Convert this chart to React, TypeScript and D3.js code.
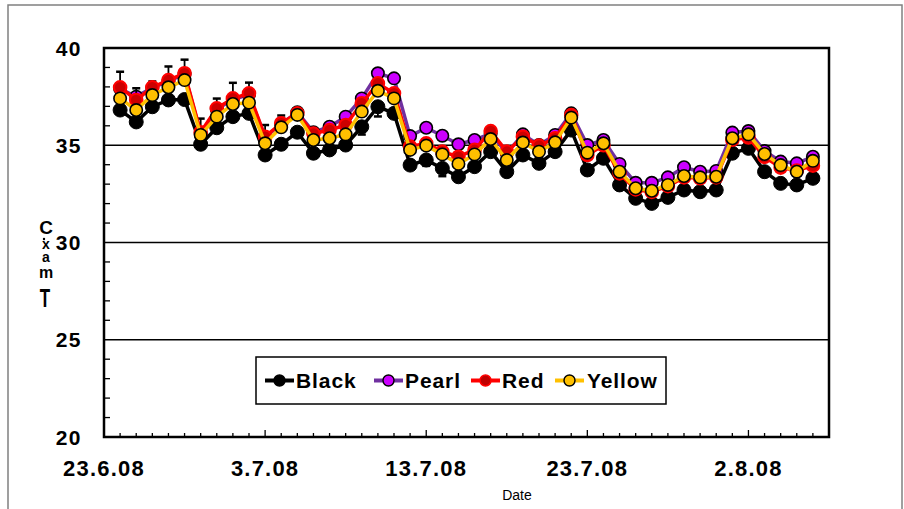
import React from "react";
import * as d3 from "d3";

const startDate = new Date(Date.UTC(2008, 5, 23));
const endDate = new Date(Date.UTC(2008, 7, 7));
const dates = d3.utcDay.range(new Date(Date.UTC(2008, 5, 24)), new Date(Date.UTC(2008, 7, 7)));

const black = [36.81, 36.2, 36.98, 37.33, 37.35, 35.05, 35.9, 36.47, 36.64, 34.5, 35.05, 35.67, 34.59, 34.76, 35.01, 35.95, 36.98, 36.64, 33.98, 34.24, 33.81, 33.38, 33.9, 34.67, 33.64, 34.5, 34.07, 34.67, 35.78, 33.73, 34.33, 32.96, 32.27, 32.01, 32.32, 32.7, 32.61, 32.7, 34.59, 34.84, 33.64, 33.04, 32.96, 33.3];
const pearl = [37.9, 37.5, 37.95, 38.3, 38.65, 35.6, 36.85, 37.35, 37.6, 35.4, 36.1, 36.7, 35.67, 35.95, 36.47, 37.41, 38.7, 38.44, 35.47, 35.9, 35.49, 35.05, 35.27, 35.6, 34.6, 35.56, 35.01, 35.53, 36.64, 35.01, 35.27, 34.04, 33.07, 33.07, 33.35, 33.87, 33.64, 33.68, 35.65, 35.73, 34.7, 34.16, 34.07, 34.41];
const red = [37.98, 37.33, 37.98, 38.35, 38.7, 35.67, 36.9, 37.41, 37.67, 35.44, 36.13, 36.64, 35.6, 35.78, 36.04, 37.16, 38.18, 37.67, 34.93, 35.1, 34.67, 34.41, 34.76, 35.73, 34.67, 35.44, 34.98, 35.36, 36.55, 34.5, 35.0, 33.55, 32.73, 32.6, 32.9, 33.35, 33.3, 33.35, 35.28, 35.4, 34.4, 33.85, 33.7, 33.95];
const yellow = [37.41, 36.81, 37.58, 37.98, 38.35, 35.53, 36.47, 37.12, 37.19, 35.1, 35.92, 36.56, 35.27, 35.36, 35.56, 36.73, 37.8, 37.41, 34.76, 34.98, 34.53, 34.04, 34.53, 35.32, 34.24, 35.14, 34.67, 35.15, 36.42, 34.62, 35.1, 33.64, 32.79, 32.66, 32.96, 33.42, 33.35, 33.38, 35.36, 35.56, 34.55, 33.98, 33.64, 34.2];
const redErrUp = [0.8, 0.6, 0.3, 0.7, 0.7, 0.7, 0.5, 0.8, 0.55, 0.6, 0.4, 0.2, 0.2, 0.2, 0.15, 0.15, 0.15, 0.1, 0.1, 0.1, 0.1, 0.1, 0.1, 0.1, 0.1, 0.1, 0.1, 0.1, 0.1, 0.1, 0.1, 0.1, 0.1, 0.1, 0.1, 0.1, 0.1, 0.1, 0.1, 0.1, 0.1, 0.1, 0.1, 0.1];
const blackErrDown = [0, 0, 0, 0, 0, 0, 0, 0, 0, 0, 0, 0, 0, 0, 0, 0.4, 0.5, 0, 0, 0.3, 0.4, 0, 0, 0, 0, 0, 0, 0, 0, 0, 0, 0, 0, 0, 0, 0, 0, 0, 0, 0, 0, 0, 0, 0];

const yTicks = [20, 25, 30, 35, 40];
const gridValues = [25, 30, 35];
const xLabelDates = [
  new Date(Date.UTC(2008, 5, 23)),
  new Date(Date.UTC(2008, 6, 3)),
  new Date(Date.UTC(2008, 6, 13)),
  new Date(Date.UTC(2008, 6, 23)),
  new Date(Date.UTC(2008, 7, 2)),
];
const seriesNames = ["Black", "Pearl", "Red", "Yellow"];
const yTitleChars = ["C", "x", "a", "m", "T"];

const W = 904, H = 509;
const L = 104, R = 829, T = 48, B = 437;
const FONT = "'Liberation Sans', Arial, Helvetica, sans-serif";

const styles: Record<string, { line: string; fill: string; stroke: string; sw: number; r: number }> = {
  Black: { line: "#000000", fill: "#000000", stroke: "#000000", sw: 1, r: 7 },
  Pearl: { line: "#7030A0", fill: "#CC00FF", stroke: "#000000", sw: 1.6, r: 6.2 },
  Red: { line: "#FF0000", fill: "#CC0000", stroke: "#FF0000", sw: 2, r: 6.3 },
  Yellow: { line: "#FFC000", fill: "#FFC000", stroke: "#000000", sw: 1.6, r: 6.2 },
};

export default function App() {
  const x = d3.scaleUtc().domain([startDate, endDate]).range([L, R]);
  const y = d3.scaleLinear().domain([20, 40]).range([B, T]);
  const dataMap: Record<string, number[]> = { Black: black, Pearl: pearl, Red: red, Yellow: yellow };
  const line = d3
    .line<number>()
    .x((_, i) => x(dates[i]))
    .y((v) => y(v));
  const dayTicks = d3.utcDay.range(new Date(Date.UTC(2008, 5, 24)), endDate);
  const minorY = d3.range(21, 40).filter((v) => v % 5 !== 0);

  const legendItems = [
    { name: "Black", lx: 265, tx: 296 },
    { name: "Pearl", lx: 374, tx: 405 },
    { name: "Red", lx: 471, tx: 502 },
    { name: "Yellow", lx: 555, tx: 587 },
  ];
  const titleY = [234, 249, 262, 278, 298];

  return (
    <svg width={W} height={H} style={{ position: "absolute", left: 0, top: 0, background: "#fff" }} fontFamily={FONT}>
      <rect x={0} y={0} width={W} height={H} fill="#fff" />
      <rect x={8} y={5} width={894} height={520} fill="none" stroke="#808080" strokeWidth={1.5} />
      {gridValues.map((v) => (
        <line key={v} x1={L} x2={R} y1={y(v)} y2={y(v)} stroke="#000" strokeWidth={1.5} />
      ))}
      {minorY.map((v) => (
        <line key={v} x1={L} x2={L + 6} y1={y(v)} y2={y(v)} stroke="#000" strokeWidth={1.3} />
      ))}
      {dayTicks.map((d, i) => {
        const major = d3.utcDay.count(startDate, d) % 10 === 0;
        return <line key={i} x1={x(d)} x2={x(d)} y1={B} y2={B - (major ? 7 : 4)} stroke="#000" strokeWidth={1.3} />;
      })}
      <rect x={L} y={T} width={R - L} height={B - T} fill="none" stroke="#000" strokeWidth={2.5} />
      {yTicks.map((v) => (
        <text key={v} x={82} y={y(v)} dy="0.36em" textAnchor="end" fontSize={21} fontWeight="bold" letterSpacing={1.5}>
          {v}
        </text>
      ))}
      {xLabelDates.map((d, i) => (
        <text key={i} x={x(d)} y={476} textAnchor="middle" fontSize={22} fontWeight="bold" letterSpacing={1.2}>
          {`${d.getUTCDate()}.${d.getUTCMonth() + 1}.08`}
        </text>
      ))}
      <text x={517} y={500} textAnchor="middle" fontSize={14}>Date</text>
      <g fontWeight="bold" textAnchor="middle">
        {yTitleChars.map((c, i) =>
          c === "T" ? (
            <text key={i} x={45} y={0} fontSize={17} transform={`translate(0,${titleY[i] + 9}) scale(1,1.5)`}>T</text>
          ) : (
            <text key={i} x={46} y={titleY[i]} fontSize={c === "C" ? 19 : c === "m" ? 16 : 14}>{c}</text>
          )
        )}
        <circle cx={44} cy={239} r={1.2} fill="#000" />
      </g>
      {seriesNames.map((name) => {
        const s = styles[name];
        const vals = dataMap[name];
        return (
          <g key={name}>
            {name === "Red" &&
              vals.map((v, i) =>
                redErrUp[i] > 0 ? (
                  <g key={i} stroke="#000" strokeWidth={1.8}>
                    <line x1={x(dates[i])} x2={x(dates[i])} y1={y(v)} y2={y(v + redErrUp[i])} />
                    <line x1={x(dates[i]) - 4} x2={x(dates[i]) + 4} y1={y(v + redErrUp[i])} y2={y(v + redErrUp[i])} strokeWidth={2.5} />
                  </g>
                ) : null
              )}
            {name === "Black" &&
              vals.map((v, i) =>
                blackErrDown[i] > 0 ? (
                  <g key={i} stroke="#000" strokeWidth={1.8}>
                    <line x1={x(dates[i])} x2={x(dates[i])} y1={y(v)} y2={y(v - blackErrDown[i])} />
                    <line x1={x(dates[i]) - 4} x2={x(dates[i]) + 4} y1={y(v - blackErrDown[i])} y2={y(v - blackErrDown[i])} strokeWidth={2.5} />
                  </g>
                ) : null
              )}
            <path d={line(vals) || ""} fill="none" stroke={s.line} strokeWidth={3.5} strokeLinejoin="round" />
            {vals.map((v, i) => (
              <circle key={i} cx={x(dates[i])} cy={y(v)} r={s.r} fill={s.fill} stroke={s.stroke} strokeWidth={s.sw} />
            ))}
          </g>
        );
      })}
      <rect x={256} y={357} width={410} height={47} fill="#fff" stroke="#000" strokeWidth={1.5} />
      {legendItems.map((it) => {
        const s = styles[it.name];
        return (
          <g key={it.name}>
            <line x1={it.lx} x2={it.lx + 29} y1={380.5} y2={380.5} stroke={s.line} strokeWidth={4} />
            <circle cx={it.lx + 14.5} cy={380.5} r={5.5} fill={it.name === "Red" ? "#C00000" : s.fill} stroke={it.name === "Red" ? "#FF0000" : s.stroke} strokeWidth={it.name === "Red" ? 1.5 : 1.4} />
            <text x={it.tx} y={380.5} dy="0.36em" fontSize={21} fontWeight="bold" letterSpacing={0.9}>
              {it.name}
            </text>
          </g>
        );
      })}
    </svg>
  );
}
